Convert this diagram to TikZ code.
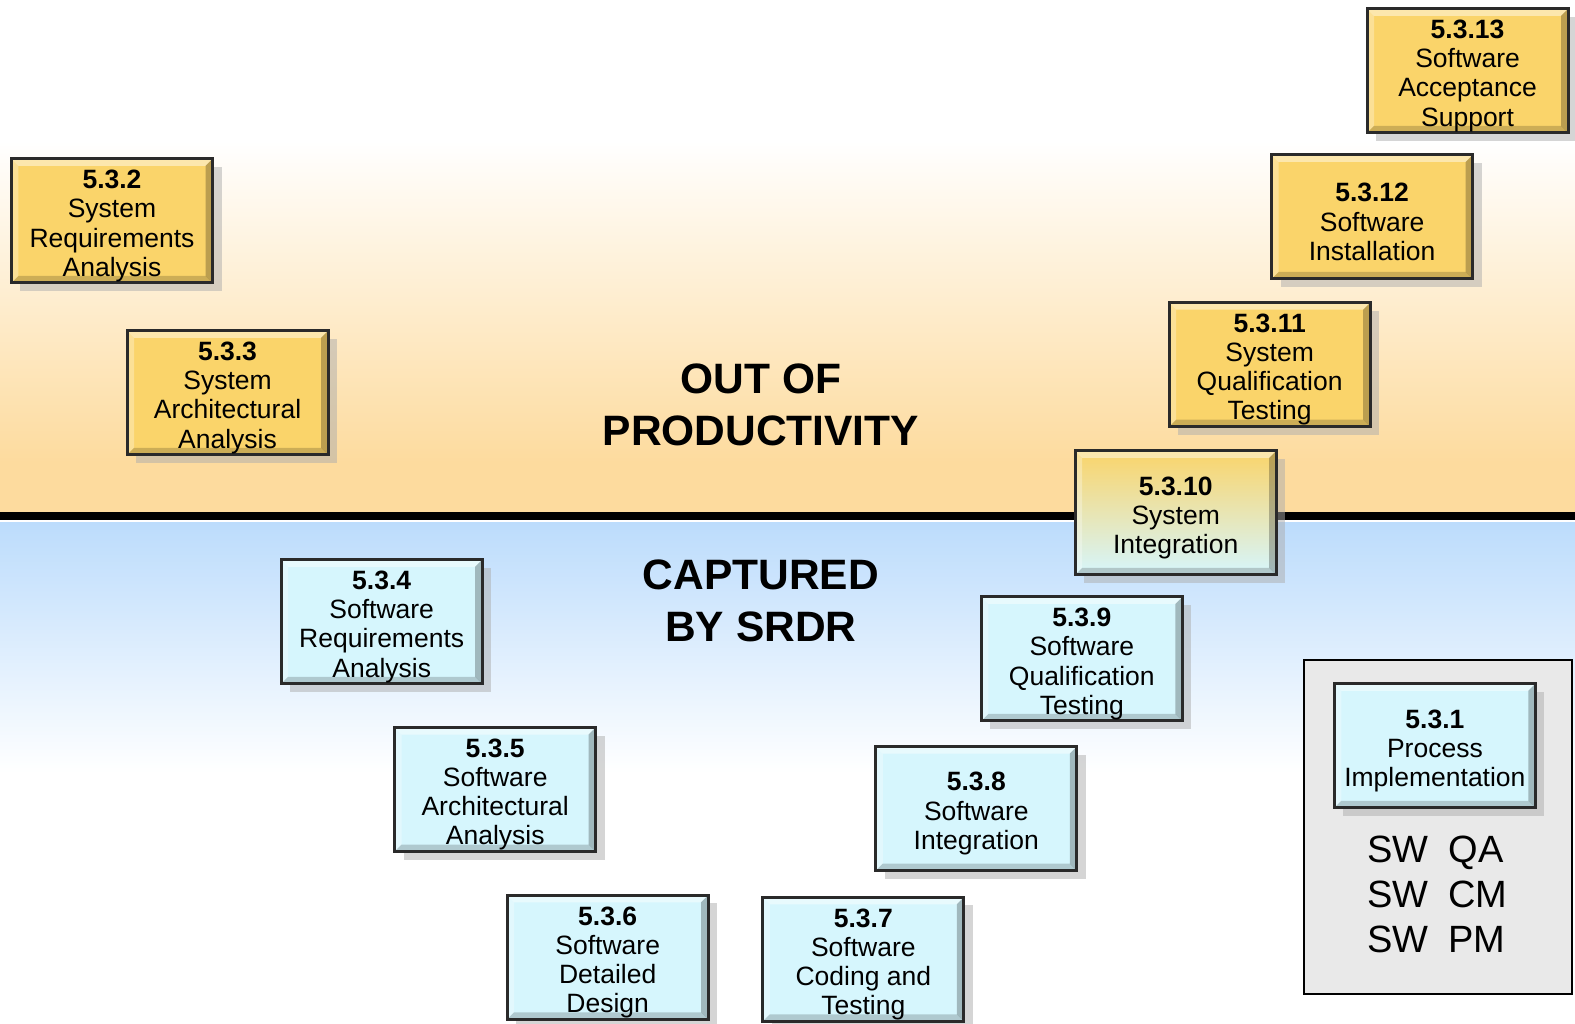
\documentclass[tikz,border=0pt]{standalone}
\usepackage{fontspec}
\setmainfont{Liberation Sans}
\usetikzlibrary{shadows}
\definecolor{boxyellow}{HTML}{FAD46A}
\definecolor{boxblue}{HTML}{D6F6FD}
\definecolor{boxmid}{HTML}{FCEFD6}
\definecolor{boxedge}{HTML}{2A2A2A}
\definecolor{bgorange}{HTML}{FDDB9E}
\definecolor{bgblue}{HTML}{BCDCFC}
\definecolor{panelgray}{HTML}{E9E9E9}
\newcommand\bevelbands{%
  \fill[white,opacity=.45] (path picture bounding box.north west) -- (path picture bounding box.north east) -- ++(-7pt,-7pt) -- ([shift={(7pt,-7pt)}]path picture bounding box.north west) -- cycle;
  \fill[white,opacity=.3] (path picture bounding box.north west) -- (path picture bounding box.south west) -- ++(7pt,7pt) -- ([shift={(7pt,-7pt)}]path picture bounding box.north west) -- cycle;
  \fill[black,opacity=.18] (path picture bounding box.south west) -- (path picture bounding box.south east) -- ++(-7pt,7pt) -- ([shift={(7pt,7pt)}]path picture bounding box.south west) -- cycle;
  \fill[black,opacity=.25] (path picture bounding box.south east) -- (path picture bounding box.north east) -- ++(-7pt,-7pt) -- ([shift={(-7pt,7pt)}]path picture bounding box.south east) -- cycle;
}
\newcommand\stagenum[1]{\textbf{#1}\rule{0pt}{28.6pt}}
\tikzset{
  stagebox/.style={draw=boxedge, line width=3pt, minimum width=201pt, minimum height=124pt,
    inner sep=0pt, align=center, font=\fontsize{26.5}{29.2}\selectfont,
    drop shadow={shadow xshift=9pt, shadow yshift=-8pt, fill=black!32},
    path picture={\bevelbands}},
  ybox/.style={stagebox, fill=boxyellow},
  bbox/.style={stagebox, fill=boxblue},
  gbox/.style={stagebox, top color=boxyellow, middle color=boxmid, bottom color=boxblue},
  title/.style={align=center, font=\fontsize{42.5}{51.5}\selectfont\bfseries},
}
\begin{document}
\begin{tikzpicture}[x=1.00446pt,y=1.00446pt]
\useasboundingbox (0,0) rectangle (1568,-1019.4);
% background
\fill[white] (0,0) rectangle (1568,-140);
\shade[top color=white, bottom color=bgorange] (0,-140) rectangle (1568,-460);
\fill[bgorange] (0,-460) rectangle (1568,-511);
\fill[black] (0,-510) rectangle (1568,-518);
\fill[white] (0,-518) rectangle (1568,-520);
\shade[top color=bgblue, bottom color=white] (0,-520) rectangle (1568,-770);
\fill[white] (0,-770) rectangle (1568,-1019.4);

% titles
\node[title] (out) at (757.5,-403) {OUT OF\\PRODUCTIVITY};
\node[title] (cap) at (757.5,-598) {CAPTURED\\BY SRDR};

% gray panel
\node[draw=black, line width=1.5pt, fill=panelgray, minimum width=268pt, minimum height=334pt, inner sep=0pt] (panel) at (1431.5,-823.5) {};
\node[anchor=west, align=left, font=\fontsize{38}{45}\selectfont, inner sep=0pt] (roles) at (1361,-890)
  {SW\hspace{20pt}QA\\SW\hspace{20pt}CM\\SW\hspace{20pt}PM};

% yellow boxes
\node[ybox] (b532) at (111.5,-220) {\stagenum{5.3.2}\\System\\Requirements\\Analysis};
\node[ybox] (b533) at (226.5,-391) {\stagenum{5.3.3}\\System\\Architectural\\Analysis};
\node[ybox] (b5313) at (1461,-70.5) {\stagenum{5.3.13}\\Software\\Acceptance\\Support};
\node[ybox] (b5312) at (1366,-216) {\stagenum{5.3.12}\\Software\\Installation};
\node[ybox] (b5311) at (1264,-363) {\stagenum{5.3.11}\\System\\Qualification\\Testing};
\node[gbox] (b5310) at (1170.5,-510.5) {\stagenum{5.3.10}\\System\\Integration};

% blue boxes
\node[bbox] (b534) at (380,-619) {\stagenum{5.3.4}\\Software\\Requirements\\Analysis};
\node[bbox] (b535) at (493,-786) {\stagenum{5.3.5}\\Software\\Architectural\\Analysis};
\node[bbox] (b536) at (605,-953) {\stagenum{5.3.6}\\Software\\Detailed\\Design};
\node[bbox] (b537) at (859.5,-955) {\stagenum{5.3.7}\\Software\\Coding and\\Testing};
\node[bbox] (b538) at (972,-805) {\stagenum{5.3.8}\\Software\\Integration};
\node[bbox] (b539) at (1077,-656) {\stagenum{5.3.9}\\Software\\Qualification\\Testing};
\node[bbox] (b531) at (1428.5,-742.5) {\stagenum{5.3.1}\\Process\\Implementation};
\end{tikzpicture}
\end{document}
